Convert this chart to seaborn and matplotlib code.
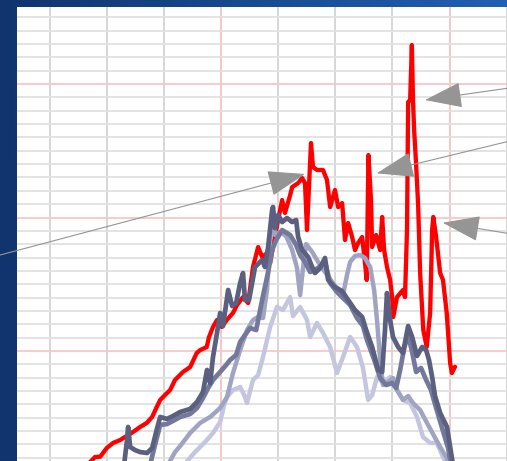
import numpy as np
import pandas as pd
import matplotlib
matplotlib.use("Agg")
import matplotlib.pyplot as plt
from matplotlib.ticker import MultipleLocator
import seaborn as sns

sns.set_theme(style="white")

# Day index (x) and activity level (y) for each season's curve
current_x = [33.4, 35.9, 37.7, 40.0, 42.2, 44.7, 46.4, 48.7, 51.7, 54.0, 55.9, 57.5, 58.7, 60.4,
             62.2, 63.9, 66.7, 69.2, 71.5, 72.7, 75.0, 75.8, 77.2, 78.6, 80.3, 82.0, 84.2, 85.6,
             87.7, 89.5, 91.2, 93.0, 94.4, 96.1, 97.2, 98.2, 100.0, 101.4, 102.4, 104.2, 104.9,
             107.0, 108.4, 109.4, 110.1, 111.5, 112.2, 113.6, 115.7, 117.1, 118.2, 119.9, 121.0,
             122.4, 123.4, 124.5, 125.9, 126.9, 128.0, 129.4, 130.4, 131.0, 131.6, 132.5, 132.9,
             134.3, 135.7, 136.4, 137.1, 138.1, 139.2, 139.9, 140.3, 141.6, 143.7, 144.4, 145.1,
             145.5, 146.2, 146.8, 147.2, 147.6, 148.3, 149.0, 149.7, 150.8, 152.0, 153.2, 153.9,
             154.3, 155.3, 156.7, 157.7, 159.0, 160.2, 160.8, 161.9]
current_y = [1.5, 2.06, 2.08, 2.73, 3.11, 3.33, 3.56, 3.86, 4.31, 4.61, 5.06, 5.80, 6.33, 6.70,
             7.08, 7.83, 8.43, 8.80, 9.85, 10.07, 10.30, 11.05, 11.80, 12.32, 11.80, 12.32, 12.85,
             13.44, 14.04, 13.59, 16.29, 17.79, 17.04, 17.34, 16.59, 17.79, 19.81, 21.31, 20.34,
             21.68, 22.28, 22.58, 22.96, 22.58, 19.06, 25.58, 23.78, 23.56, 23.56, 22.81, 20.78,
             22.06, 20.78, 21.08, 18.31, 19.59, 18.54, 17.56, 18.09, 18.54, 16.59, 15.32, 24.68,
             21.31, 17.79, 18.69, 17.56, 20.04, 17.56, 16.29, 15.32, 14.04, 12.55, 14.04, 14.57,
             14.04, 19.06, 28.65, 28.80, 32.92, 28.80, 26.55, 23.93, 20.93, 15.84, 11.57, 10.30,
             12.85, 19.06, 20.04, 18.54, 15.84, 15.32, 12.85, 9.10, 8.35, 8.82]

prior1_x = [46.1, 47.1, 47.5, 48.2, 49.9, 51.7, 54.1, 55.9, 57.3, 58.7, 61.1, 63.2, 65.7, 69.2,
            71.6, 73.7, 75.1, 76.2, 77.2, 78.6, 79.7, 80.7, 82.5, 83.9, 85.3, 86.7, 87.7, 88.4,
            89.8, 90.9, 91.9, 94.4, 95.4, 96.5, 97.9, 98.2, 98.9, 100.0, 101.4, 103.1, 104.9,
            106.3, 107.0, 108.4, 110.5, 111.9, 112.9, 114.7, 116.4, 117.5, 119.9, 122.4, 124.5,
            126.9, 129.4, 130.8, 132.9, 135.0, 136.4, 137.4, 138.1, 139.2, 140.2, 142.0, 143.7,
            145.5, 146.9, 148.6, 150.4, 151.8, 152.8, 153.9, 154.9, 156.7, 159.1, 160.2, 161.2]
prior1_y = [1.5, 3.33, 4.31, 2.81, 2.58, 2.43, 2.36, 2.73, 3.93, 5.06, 4.91, 5.13, 5.43, 5.66,
            6.18, 6.93, 8.58, 7.60, 9.55, 11.35, 12.85, 11.87, 14.57, 13.37, 13.60, 15.09, 15.84,
            13.82, 13.82, 15.09, 16.29, 16.82, 16.29, 17.79, 20.56, 20.79, 19.21, 20.19, 19.66,
            19.96, 19.66, 19.81, 18.54, 17.57, 17.04, 16.29, 15.84, 16.22, 16.97, 15.32, 14.79,
            14.49, 13.82, 13.07, 12.55, 11.57, 10.30, 8.58, 8.43, 11.57, 14.34, 12.32, 11.05,
            10.30, 9.85, 11.87, 11.05, 9.63, 10.30, 10.07, 9.33, 8.05, 6.63, 5.36, 4.31, 2.81, 1.5]

prior2_x = [55.2, 56.9, 58.7, 61.1, 63.2, 65.7, 69.2, 71.6, 73.7, 75.5, 77.2, 79.7, 81.8, 83.2,
            85.3, 86.7, 88.4, 90.2, 92.3, 94.4, 96.5, 97.9, 99.3, 101.4, 104.2, 106.3, 107.7,
            109.4, 111.2, 114.0, 116.4, 118.2, 120.6, 122.7, 125.2, 127.6, 129.7, 131.1, 133.9,
            135.7, 137.8, 139.9, 141.3, 142.7, 144.1, 145.5, 146.9, 148.3, 150.0, 151.8, 153.5,
            155.3, 157.4, 159.5, 160.5]
prior2_y = [1.5, 2.96, 4.46, 4.53, 4.76, 5.06, 5.28, 5.73, 6.48, 7.23, 7.83, 8.43, 8.95, 9.33,
            9.70, 10.67, 11.20, 11.72, 11.57, 13.82, 15.92, 17.57, 18.31, 19.06, 18.69, 17.94,
            17.19, 16.67, 15.92, 16.22, 16.67, 15.09, 14.42, 13.97, 13.45, 12.47, 11.87, 10.82,
            9.18, 7.98, 7.45, 7.60, 7.23, 8.58, 10.22, 11.20, 9.93, 8.43, 8.73, 7.83, 7.08, 5.73,
            4.23, 2.73, 1.5]

prior3_x = [61.5, 63.9, 65.7, 69.2, 72.7, 76.2, 79.7, 82.1, 84.2, 86.7, 89.1, 91.2, 93.0, 94.7,
            96.1, 97.2, 97.9, 98.9, 100.7, 102.8, 104.9, 106.6, 107.7, 108.7, 109.8, 111.9,
            114.0, 116.4, 118.9, 121.0, 122.7, 124.1, 125.2, 126.9, 128.7, 130.4, 132.2, 133.6,
            134.6, 135.7, 136.7, 138.5, 140.2, 141.6, 143.7, 145.5, 147.2, 149.7, 152.1, 154.6,
            156.7, 158.8, 159.8]
prior3_y = [1.5, 2.43, 2.88, 3.86, 4.61, 5.06, 5.73, 6.55, 8.35, 10.07, 11.57, 12.32, 12.55,
            12.47, 14.57, 18.31, 20.41, 18.69, 18.91, 18.61, 17.57, 16.22, 14.19, 16.22, 18.01,
            17.42, 16.67, 15.92, 15.17, 14.57, 14.19, 15.69, 16.67, 17.12, 17.19, 16.97, 16.29,
            14.57, 12.32, 9.33, 7.45, 7.68, 7.98, 7.08, 6.33, 6.63, 6.10, 5.58, 4.61, 3.63, 2.81,
            2.06, 1.5]

prior4_x = [67.1, 70.9, 74.4, 77.2, 79.7, 81.1, 82.1, 84.2, 86.7, 88.1, 89.1, 91.2, 93.0, 94.7,
            97.2, 99.6, 101.7, 104.2, 105.2, 107.7, 110.1, 111.2, 113.6, 115.7, 118.2, 120.6,
            122.7, 125.2, 127.6, 129.7, 131.5, 132.9, 134.6, 136.7, 139.2, 141.6, 143.7, 146.2,
            148.6, 150.7, 153.2, 155.6, 157.7, 159.1]
prior4_y = [1.5, 2.43, 3.18, 3.86, 4.68, 5.96, 6.55, 7.08, 7.30, 6.70, 6.10, 7.83, 8.20, 9.55,
            11.80, 13.30, 13.07, 14.04, 12.62, 13.30, 12.32, 11.05, 12.10, 11.35, 10.30, 8.35,
            9.55, 11.05, 10.30, 8.73, 6.33, 6.70, 8.05, 7.60, 8.05, 7.08, 6.33, 6.10, 5.06, 3.56,
            3.11, 3.11, 2.06, 1.5]

# Callout arrows: tail and head points in data units
arrow_tail_x = [2.65, 180.1, 180.1, 180.1]
arrow_tail_y = [17.19, 25.68, 29.68, 18.82]
arrow_head_x = [109.4, 134.5, 151.4, 157.6]
arrow_head_y = [23.26, 23.31, 28.80, 19.61]

series = {
    "current": (current_x, current_y),
    "prior1": (prior1_x, prior1_y),
    "prior2": (prior2_x, prior2_y),
    "prior3": (prior3_x, prior3_y),
    "prior4": (prior4_x, prior4_y),
}
frames = [pd.DataFrame({"day": x, "level": y, "season": name}) for name, (x, y) in series.items()]
df = pd.concat(frames, ignore_index=True)

styles = {
    "current": dict(color="#ff0000", lw=3.1, z=3),
    "prior4": dict(color="#c4c6e0", lw=3.2, z=4),
    "prior3": dict(color="#a0a3c2", lw=3.2, z=5),
    "prior2": dict(color="#74789b", lw=3.4, z=6),
    "prior1": dict(color="#5b5f80", lw=3.4, z=7),
}

W, H = 507, 461
fig = plt.figure(figsize=(W / 100, H / 100), dpi=100)

# Blue gradient backdrop
bg = fig.add_axes([0, 0, 1, 1], zorder=-10)
xs = np.linspace(0, 1, W)[None, :]
ys = np.linspace(0, 1, H)[:, None]
t = np.clip(xs * (1 - ys) ** 0.6, 0, 1)
dark = np.array([17, 52, 110]) / 255
light = np.array([33, 96, 180]) / 255
img = dark[None, None, :] * (1 - t[..., None]) + light[None, None, :] * t[..., None]
bg.imshow(img, aspect="auto", extent=[0, 1, 0, 1], origin="upper")
bg.axis("off")

ax = fig.add_axes([17 / W, 0, (W - 17) / W, (H - 7) / H], zorder=1)
ax.set_facecolor("white")

for name in ["current", "prior4", "prior3", "prior2", "prior1"]:
    st = styles[name]
    sns.lineplot(data=df[df["season"] == name], x="day", y="level", ax=ax,
                 color=st["color"], linewidth=st["lw"], estimator=None, sort=False,
                 zorder=st["z"], legend=False, solid_joinstyle="round", solid_capstyle="round")

ax.set_xlim(8.6, 180.1)
ax.set_ylim(1.76, 35.77)

ax.xaxis.set_major_locator(MultipleLocator(80))
ax.xaxis.set_minor_locator(MultipleLocator(20))
ax.yaxis.set_major_locator(MultipleLocator(10))
ax.yaxis.set_minor_locator(MultipleLocator(1))
ax.xaxis.grid(True, which="minor", color="#cfcfcf", linewidth=1.2)
ax.yaxis.grid(True, which="minor", color="#e0e0e0", linewidth=1.3)
ax.xaxis.grid(True, which="major", color="#f3bcbc", linewidth=1.2)
ax.yaxis.grid(True, which="major", color="#f6c8c8", linewidth=1.3)
ax.set_axisbelow(True)
ax.tick_params(which="both", length=0, labelleft=False, labelbottom=False)
ax.set_xlabel("")
ax.set_ylabel("")
for sp in ax.spines.values():
    sp.set_visible(False)

for tx, ty, hx, hy in zip(arrow_tail_x, arrow_tail_y, arrow_head_x, arrow_head_y):
    ax.annotate("", xy=(hx, hy), xytext=(tx, ty), xycoords="data", textcoords="data",
                annotation_clip=False, zorder=10,
                arrowprops=dict(arrowstyle="-|>,head_length=1.6,head_width=0.55",
                                mutation_scale=15, color="#959595", lw=0.8,
                                shrinkA=0, shrinkB=0))

fig.savefig("out.png", dpi=100)
